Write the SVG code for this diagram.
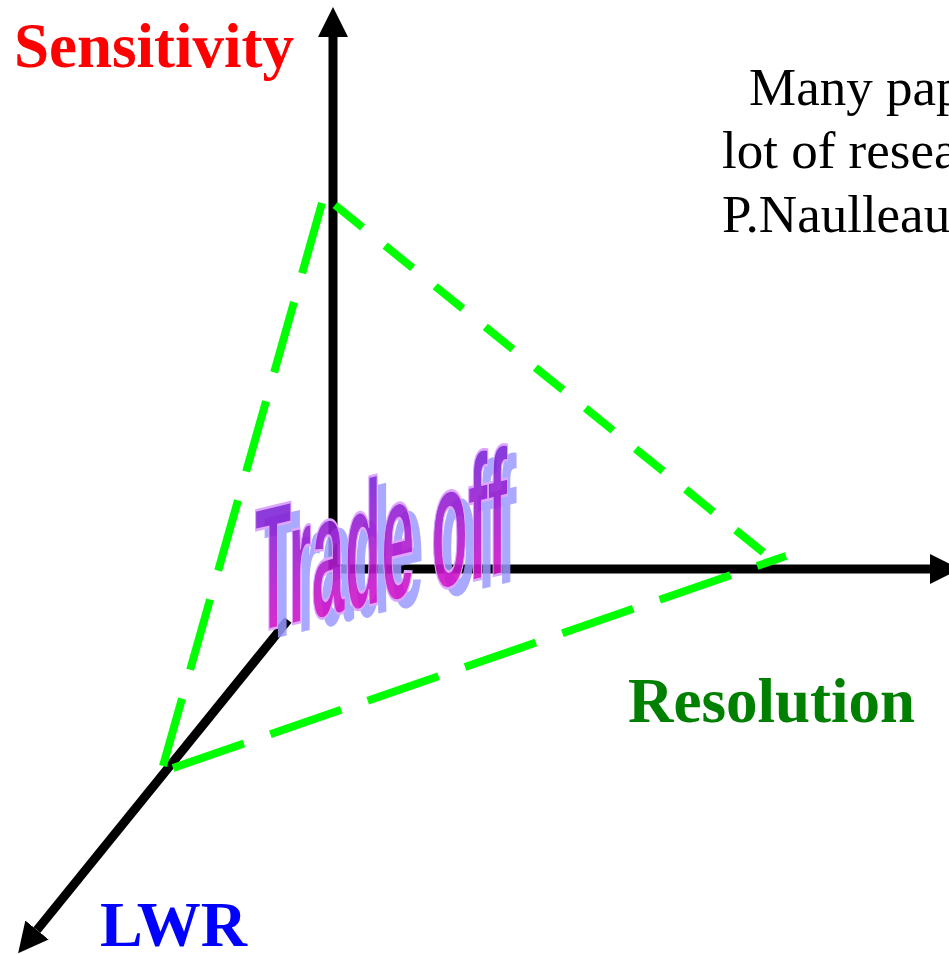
<svg xmlns="http://www.w3.org/2000/svg" width="949" height="954" viewBox="0 0 949 954">
  <style>
    .axis { stroke: #000000; stroke-width: 9; fill: none; stroke-linecap: butt; }
    .tri { stroke: #00FF00; stroke-width: 8; fill: none; stroke-linecap: butt; }
    .label { font-family: "Liberation Serif", "Times New Roman", serif; font-weight: bold; font-size: 63px; }
    .note { font-family: "Liberation Serif", "Times New Roman", serif; font-size: 53px; fill: #000000; }
    .wa { font-family: "Liberation Sans", Arial, sans-serif; font-weight: bold; font-size: 178px; }
  </style>
  <defs>
    <marker id="arrow" viewBox="0 0 30 30" markerWidth="30" markerHeight="30" refX="0" refY="15" orient="auto" markerUnits="userSpaceOnUse">
      <path d="M0,0 L30,15 L0,30 Z" fill="#000000"/>
    </marker>
    <linearGradient id="tg" gradientUnits="userSpaceOnUse" x1="0" y1="-130" x2="0" y2="0">
      <stop offset="0" stop-color="#7628D8"/>
      <stop offset="1" stop-color="#D414C8"/>
    </linearGradient>
  </defs>

  <g id="connectors">
    <line id="axis-sensitivity" class="axis" x1="333" y1="573" x2="333" y2="37" marker-end="url(#arrow)"/>
    <line id="axis-resolution" class="axis" x1="329" y1="569" x2="930" y2="569" marker-end="url(#arrow)"/>
    <line id="axis-lwr" class="axis" x1="288" y1="620" x2="37" y2="930" marker-end="url(#arrow)"/>
    <line id="edge-left" class="tri" x1="322" y1="203" x2="163" y2="766" stroke-dasharray="73 30"/>
    <line id="edge-right" class="tri" x1="335" y1="205" x2="769" y2="557" stroke-dasharray="35.5 29"/>
    <line id="edge-bottom" class="tri" x1="173" y1="768" x2="786" y2="556" stroke-dasharray="75 28"/>
  </g>

  <g id="node-sensitivity">
    <text class="label" x="14" y="67" fill="#FF0000">Sensitivity</text>
  </g>
  <g id="node-resolution">
    <text class="label" x="628" y="722" fill="#008000">Resolution</text>
  </g>
  <g id="node-lwr">
    <text class="label" x="100" y="946" fill="#0000FF" style="font-size:64px">LWR</text>
  </g>

  <g id="node-note">
    <text class="note" x="749" y="105">Many pap</text>
    <text class="note" x="722" y="168">lot of resea</text>
    <text class="note" x="722" y="232">P.Naulleau</text>
  </g>

  <g id="node-tradeoff">
    <g transform="translate(264,641) skewY(-13.5) scale(0.336,1)">
      <text class="wa" x="0" y="0" fill="#9A9AFF" fill-opacity="0.85">Trade off</text>
    </g>
    <g transform="translate(255,633) skewY(-13.5) scale(0.336,1)">
      <text class="wa" x="0" y="0" fill="url(#tg)" fill-opacity="0.9" stroke="#DDA6FF" stroke-width="2" vector-effect="non-scaling-stroke">Trade off</text>
    </g>
  </g>
</svg>
